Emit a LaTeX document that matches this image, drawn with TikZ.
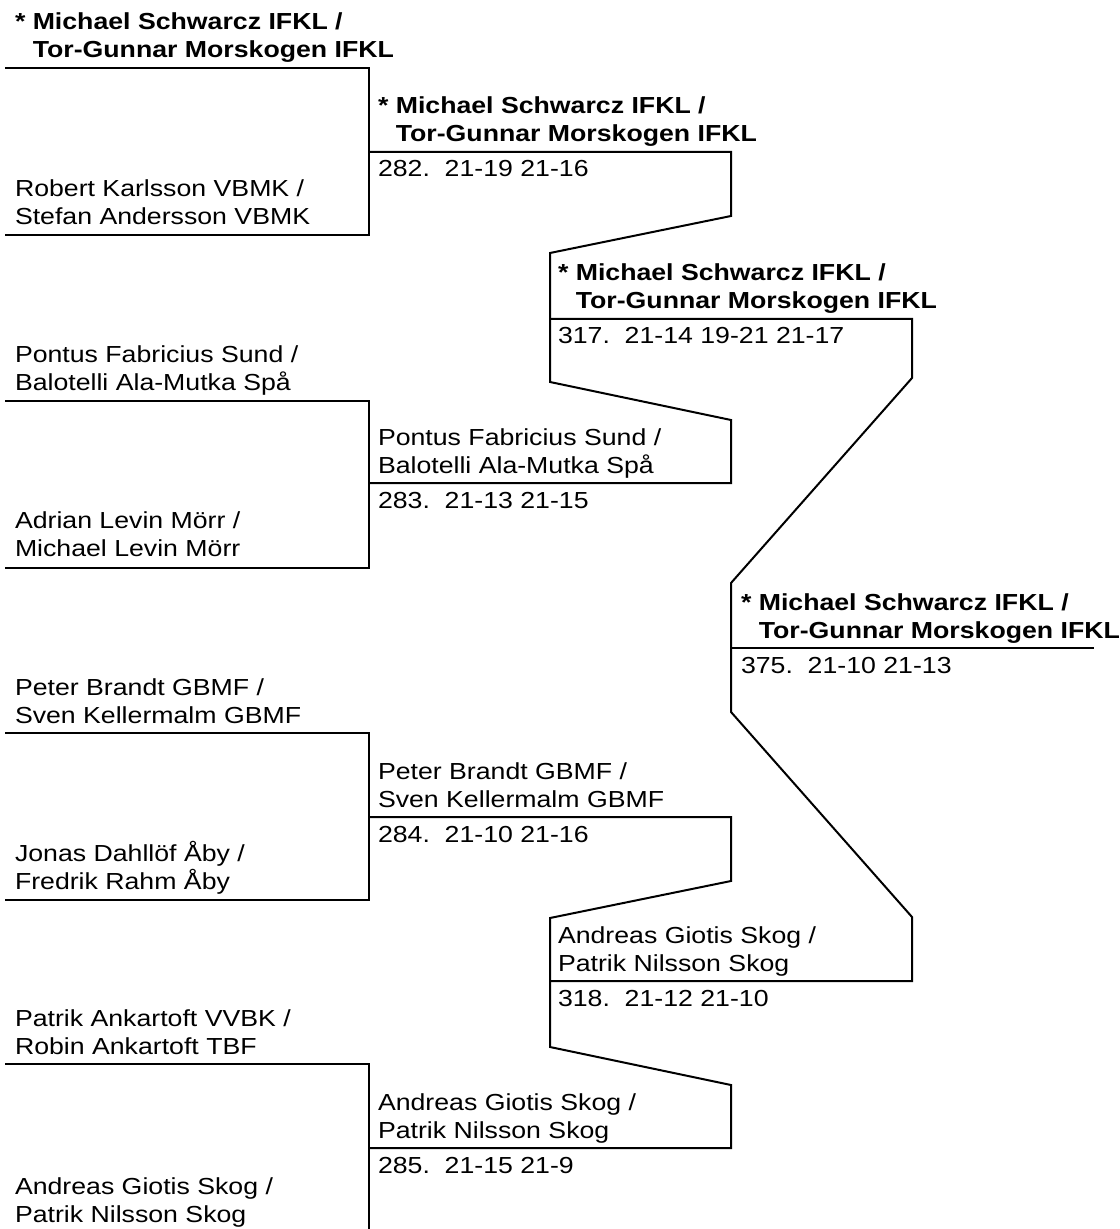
\documentclass[tikz,border=0pt]{standalone}
\usepackage{fontspec}
\setmainfont{Liberation Sans}[FakeStretch=1.15]

\begin{document}
\begin{tikzpicture}[x=0.5pt,y=-0.5pt,line width=1pt,
  team/.style={anchor=base west,inner sep=0pt,font=\fontsize{11.6}{13.75}\selectfont},
  winner/.style={team,font=\fontsize{11.6}{13.75}\selectfont\bfseries},
  score/.style={team}]
 \useasboundingbox (0,0) rectangle (1119,1229);
 % 1回戦
 \foreach \y in {68,401,733,1064}
   \draw (5,\y)--(369,\y)--(369,\y+167)--(5,\y+167);
 % 2回戦
 \foreach \y in {152,817}
   \draw (369,\y)--(731,\y)--(731,\y+64)--(550,\y+101)--(550,\y+230)--(731,\y+268)--(731,\y+331)--(369,\y+331);
 % 準決勝
 \draw (550,319)--(912,319)--(912,378)--(731,583)--(731,712)--(912,917)--(912,981)--(550,981);
 % 決勝
 \draw (731,648)--(1094,648);

 \node[winner] (a1) at (14,30) {* Michael Schwarcz IFKL /};
 \node[winner] (a2) at (14,58) {\phantom{*\ }Tor-Gunnar Morskogen IFKL};
 \node[team] (b1) at (14,197) {Robert Karlsson VBMK /};
 \node[team] (b2) at (14,225) {Stefan Andersson VBMK};
 \node[team] (c1) at (14,363) {Pontus Fabricius Sund /};
 \node[team] (c2) at (14,391) {Balotelli Ala-Mutka Spå};
 \node[team] (d1) at (14,528) {Adrian Levin Mörr /};
 \node[team] (d2) at (14,556) {Michael Levin Mörr};
 \node[team] (e1) at (14,695) {Peter Brandt GBMF /};
 \node[team] (e2) at (14,723) {Sven Kellermalm GBMF};
 \node[team] (f1) at (14,861) {Jonas Dahllöf Åby /};
 \node[team] (f2) at (14,889) {Fredrik Rahm Åby};
 \node[team] (g1) at (14,1026) {Patrik Ankartoft VVBK /};
 \node[team] (g2) at (14,1054) {Robin Ankartoft TBF};
 \node[team] (h1) at (14,1194) {Andreas Giotis Skog /};
 \node[team] (h2) at (14,1222) {Patrik Nilsson Skog};

 \node[winner] (m282a) at (377,114) {* Michael Schwarcz IFKL /};
 \node[winner] (m282b) at (377,142) {\phantom{*\ }Tor-Gunnar Morskogen IFKL};
 \node[score] (s282) at (377,177) {282.\ \ 21-19 21-16};
 \node[team] (m283a) at (377,445) {Pontus Fabricius Sund /};
 \node[team] (m283b) at (377,473) {Balotelli Ala-Mutka Spå};
 \node[score] (s283) at (377,508) {283.\ \ 21-13 21-15};
 \node[team] (m284a) at (377,779) {Peter Brandt GBMF /};
 \node[team] (m284b) at (377,807) {Sven Kellermalm GBMF};
 \node[score] (s284) at (377,842) {284.\ \ 21-10 21-16};
 \node[team] (m285a) at (377,1110) {Andreas Giotis Skog /};
 \node[team] (m285b) at (377,1138) {Patrik Nilsson Skog};
 \node[score] (s285) at (377,1173) {285.\ \ 21-15 21-9};

 \node[winner] (m317a) at (557,281) {* Michael Schwarcz IFKL /};
 \node[winner] (m317b) at (557,309) {\phantom{*\ }Tor-Gunnar Morskogen IFKL};
 \node[score] (s317) at (557,344) {317.\ \ 21-14 19-21 21-17};
 \node[team] (m318a) at (557,943) {Andreas Giotis Skog /};
 \node[team] (m318b) at (557,971) {Patrik Nilsson Skog};
 \node[score] (s318) at (557,1006) {318.\ \ 21-12 21-10};

 \node[winner] (m375a) at (740,610) {* Michael Schwarcz IFKL /};
 \node[winner] (m375b) at (740,638) {\phantom{*\ }Tor-Gunnar Morskogen IFKL};
 \node[score] (s375) at (740,673) {375.\ \ 21-10 21-13};
\end{tikzpicture}
\end{document}
